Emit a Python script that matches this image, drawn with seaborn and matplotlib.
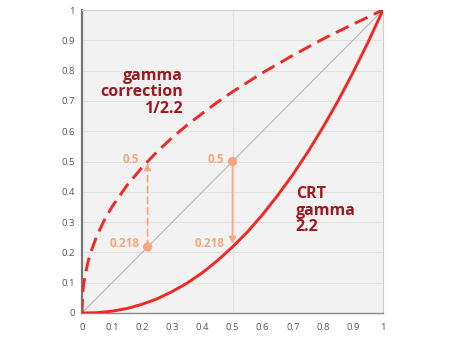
import matplotlib
matplotlib.use("Agg")
import matplotlib.pyplot as plt
import seaborn as sns
import pandas as pd

# ---- data ----
corr_x = [0, 0.002, 0.005, 0.01, 0.02, 0.03, 0.05, 0.075, 0.1, 0.15, 0.2, 0.25, 0.3,
          0.35, 0.4, 0.45, 0.5, 0.6, 0.7, 0.8, 0.9, 1.0]
corr_y = [0, 0.059, 0.090, 0.123, 0.169, 0.203, 0.256, 0.308, 0.351, 0.422, 0.481, 0.533,
          0.579, 0.621, 0.659, 0.696, 0.730, 0.793, 0.850, 0.904, 0.953, 1.0]
crt_x = [0, 0.05, 0.1, 0.15, 0.2, 0.25, 0.3, 0.35, 0.4, 0.45, 0.5, 0.55, 0.6, 0.65,
         0.7, 0.75, 0.8, 0.85, 0.9, 0.95, 1.0]
crt_y = [0, 0.001, 0.006, 0.015, 0.029, 0.047, 0.071, 0.099, 0.133, 0.173, 0.218, 0.268,
         0.325, 0.388, 0.456, 0.531, 0.612, 0.699, 0.793, 0.893, 1.0]
diag_x = [0, 1]
diag_y = [0, 1]
point_x = [0.218, 0.5]
point_y = [0.218, 0.5]
label_in = "0.218"
label_out = "0.5"
ticks = [0, 0.1, 0.2, 0.3, 0.4, 0.5, 0.6, 0.7, 0.8, 0.9, 1]
tick_labels = ["0", "0.1", "0.2", "0.3", "0.4", "0.5", "0.6", "0.7", "0.8", "0.9", "1"]

RED = "#ee2a24"
DARKRED = "#9b1b1f"
ORANGE = "#f6a67e"

sns.set_style("white")
plt.rcParams["font.family"] = ["Open Sans", "DejaVu Sans"]

fig = plt.figure(figsize=(4.5, 3.38), dpi=100)
ax = fig.add_axes([82 / 450, 25 / 338, 301 / 450, 303 / 338])
ax.set_facecolor("#f2f2f2")

for t in ticks[1:]:
    ax.axhline(t, color="#e2e2e2", lw=0.8, zorder=0)
ax.axvline(0.5, color="#e2e2e2", lw=0.8, zorder=0)

sns.lineplot(x=diag_x, y=diag_y, ax=ax, color="#b8b8b8", lw=0.8, zorder=1)
sns.lineplot(x=corr_x, y=corr_y, ax=ax, color=RED, lw=2.1, zorder=3,
             linestyle=(0, (4.8, 2.4)), sort=False)
sns.lineplot(x=crt_x, y=crt_y, ax=ax, color=RED, lw=2.1, zorder=3, sort=False)

sns.scatterplot(x=point_x, y=point_y, ax=ax, color=ORANGE, s=45, edgecolor="none", zorder=5)

# arrows
ax.annotate("", xy=(point_x[0], point_y[1] - 0.005), xytext=(point_x[0], point_y[0]),
            arrowprops=dict(arrowstyle="-|>", color=ORANGE, lw=1.2, linestyle=(0, (4, 2.5)),
                            mutation_scale=10, shrinkA=0, shrinkB=0), zorder=4)
ax.annotate("", xy=(point_x[1], point_y[0] + 0.01), xytext=(point_x[1], point_y[1]),
            arrowprops=dict(arrowstyle="-|>", color=ORANGE, lw=1.2,
                            mutation_scale=10, shrinkA=0, shrinkB=0), zorder=4)

lab = dict(color=ORANGE, fontsize=8.5, fontweight="bold", ha="right", va="center")
ax.text(point_x[0] - 0.027, point_y[1] + 0.005, label_out, **lab)
ax.text(point_x[0] - 0.027, point_y[0] + 0.012, label_in, **lab)
ax.text(point_x[1] - 0.027, point_y[1] + 0.005, label_out, **lab)
ax.text(point_x[1] - 0.027, point_y[0] + 0.012, label_in, **lab)

ax.text(0.335, 0.728, "gamma\ncorrection\n1/2.2", color=DARKRED, fontsize=11.5,
        fontweight="bold", ha="right", va="center", linespacing=1.05)
ax.text(0.71, 0.338, "CRT\ngamma\n2.2", color=DARKRED, fontsize=11.5,
        fontweight="bold", ha="left", va="center", linespacing=1.05)

ax.set_xlim(0, 1)
ax.set_ylim(0, 1)
ax.set_xticks(ticks)
ax.set_yticks(ticks)
ax.set_xticklabels(tick_labels)
ax.set_yticklabels(tick_labels)
ax.tick_params(axis="both", labelsize=6.8, colors="#555555", length=3, width=0.8,
               direction="out", pad=2)
ax.tick_params(axis="x", pad=4)
ax.set_xlabel("")
ax.set_ylabel("")

for side in ["top", "right"]:
    ax.spines[side].set_color("#d0d0d0")
    ax.spines[side].set_linewidth(0.8)
ax.spines["left"].set_color("#777777")
ax.spines["left"].set_linewidth(1.6)
ax.spines["bottom"].set_color("#888888")
ax.spines["bottom"].set_linewidth(1.0)

fig.savefig("out.png", dpi=100)
